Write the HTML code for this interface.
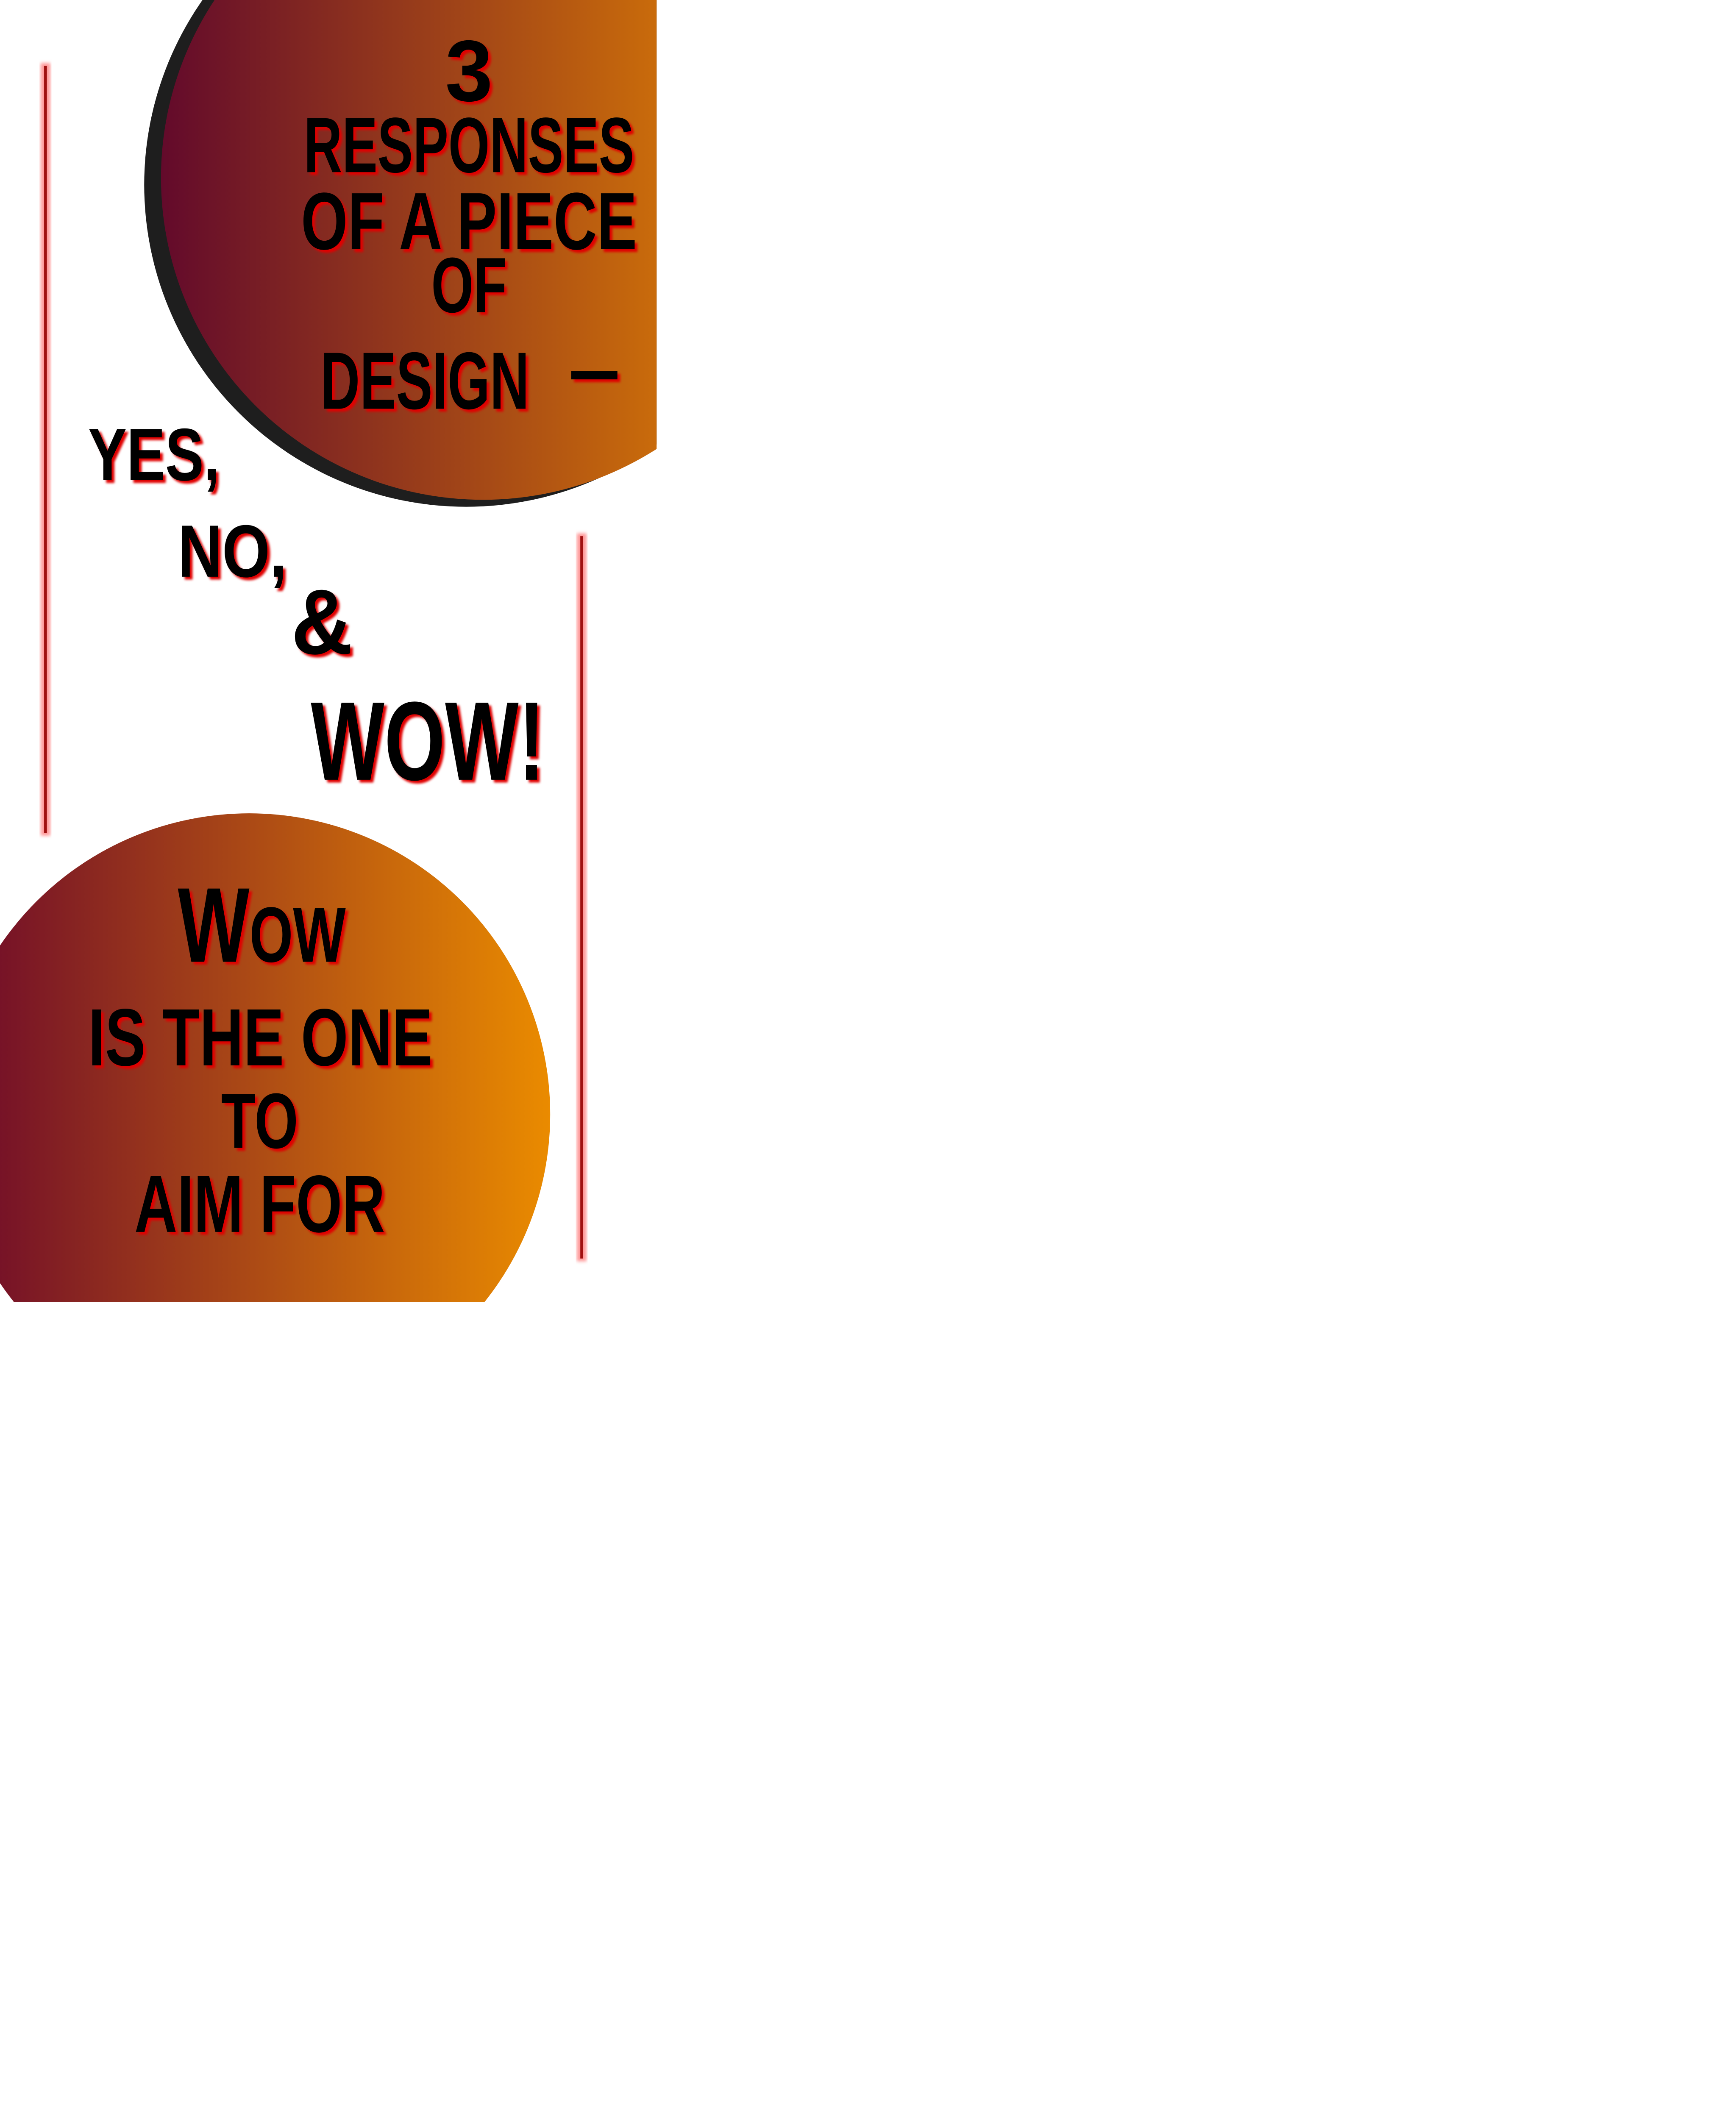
<!DOCTYPE html>
<html><head><meta charset="utf-8"><style>
html,body{margin:0;padding:0;background:#fff;width:4096px;height:5120px;overflow:hidden}
svg{display:block}
text{font-family:"Liberation Sans Narrow","Liberation Sans",sans-serif;font-weight:bold}
</style></head><body>
<svg width="4096" height="5120" viewBox="0 0 1240 1550" xmlns="http://www.w3.org/2000/svg">
<defs>
<linearGradient id="g1" gradientUnits="userSpaceOnUse" x1="115" x2="469" y1="0" y2="0"><stop offset="0" stop-color="#630a2b"/><stop offset="1" stop-color="#c96b0b"/></linearGradient>
<linearGradient id="g2" gradientUnits="userSpaceOnUse" x1="0" x2="393" y1="0" y2="0"><stop offset="0" stop-color="#771327"/><stop offset="1" stop-color="#ea8b00"/></linearGradient>
<clipPath id="c1"><rect x="0" y="0" width="469" height="930"/></clipPath>
<clipPath id="c2"><rect x="0" y="0" width="1240" height="930"/></clipPath>
<filter id="bl" x="-10%" y="-10%" width="120%" height="120%"><feGaussianBlur stdDeviation="0.8"/></filter>
<filter id="lb"><feGaussianBlur stdDeviation="1.2"/></filter>
</defs>
<g clip-path="url(#c1)">
<circle cx="333" cy="132" r="230" fill="#1e1e1e"/>
<circle cx="345" cy="127" r="230" fill="url(#g1)"/>
</g>
<g clip-path="url(#c2)">
<circle cx="178" cy="796" r="215" fill="url(#g2)"/>
</g>
<g>
<rect x="29" y="45" width="7" height="552" fill="#ff9a9a" filter="url(#lb)"/>
<rect x="31.5" y="47" width="2" height="548" fill="#a01010"/>
</g>
<g>
<rect x="412" y="381" width="7" height="520" fill="#ff9a9a" filter="url(#lb)"/>
<rect x="414.5" y="383" width="2" height="516" fill="#a01010"/>
</g>
<g fill="#e00000" filter="url(#bl)" transform="translate(2,2)">
<text x="318" y="72" font-size="62" textLength="34" lengthAdjust="spacingAndGlyphs">3</text>
<text x="217" y="123" font-size="56" textLength="236" lengthAdjust="spacingAndGlyphs">RESPONSES</text>
<text x="215" y="178" font-size="58" textLength="240" lengthAdjust="spacingAndGlyphs">OF A PIECE</text>
<text x="308" y="223" font-size="56" textLength="54" lengthAdjust="spacingAndGlyphs">OF</text>
<text x="229" y="292" font-size="58" textLength="149" lengthAdjust="spacingAndGlyphs">DESIGN</text>
<rect x="408" y="265" width="33" height="6"/>
<text x="63" y="343" font-size="53" textLength="94" lengthAdjust="spacingAndGlyphs">YES,</text>
<text x="127" y="412" font-size="53" textLength="78" lengthAdjust="spacingAndGlyphs">NO,</text>
<text x="208" y="467" font-size="66" textLength="44" lengthAdjust="spacingAndGlyphs">&amp;</text>
<text x="222" y="557" font-size="80" textLength="167" lengthAdjust="spacingAndGlyphs">WOW!</text>
<text x="127" y="687" font-size="76" textLength="120" lengthAdjust="spacingAndGlyphs">W<tspan font-size="56">OW</tspan></text>
<text x="63" y="761" font-size="58" textLength="246" lengthAdjust="spacingAndGlyphs">IS THE ONE</text>
<text x="158" y="820" font-size="56" textLength="55" lengthAdjust="spacingAndGlyphs">TO</text>
<text x="96" y="880" font-size="58" textLength="179" lengthAdjust="spacingAndGlyphs">AIM FOR</text>
</g>
<g fill="#000">
<text x="318" y="72" font-size="62" textLength="34" lengthAdjust="spacingAndGlyphs">3</text>
<text x="217" y="123" font-size="56" textLength="236" lengthAdjust="spacingAndGlyphs">RESPONSES</text>
<text x="215" y="178" font-size="58" textLength="240" lengthAdjust="spacingAndGlyphs">OF A PIECE</text>
<text x="308" y="223" font-size="56" textLength="54" lengthAdjust="spacingAndGlyphs">OF</text>
<text x="229" y="292" font-size="58" textLength="149" lengthAdjust="spacingAndGlyphs">DESIGN</text>
<rect x="408" y="265" width="33" height="6"/>
<text x="63" y="343" font-size="53" textLength="94" lengthAdjust="spacingAndGlyphs">YES,</text>
<text x="127" y="412" font-size="53" textLength="78" lengthAdjust="spacingAndGlyphs">NO,</text>
<text x="208" y="467" font-size="66" textLength="44" lengthAdjust="spacingAndGlyphs">&amp;</text>
<text x="222" y="557" font-size="80" textLength="167" lengthAdjust="spacingAndGlyphs">WOW!</text>
<text x="127" y="687" font-size="76" textLength="120" lengthAdjust="spacingAndGlyphs">W<tspan font-size="56">OW</tspan></text>
<text x="63" y="761" font-size="58" textLength="246" lengthAdjust="spacingAndGlyphs">IS THE ONE</text>
<text x="158" y="820" font-size="56" textLength="55" lengthAdjust="spacingAndGlyphs">TO</text>
<text x="96" y="880" font-size="58" textLength="179" lengthAdjust="spacingAndGlyphs">AIM FOR</text>
</g>
</svg>
</body></html>
